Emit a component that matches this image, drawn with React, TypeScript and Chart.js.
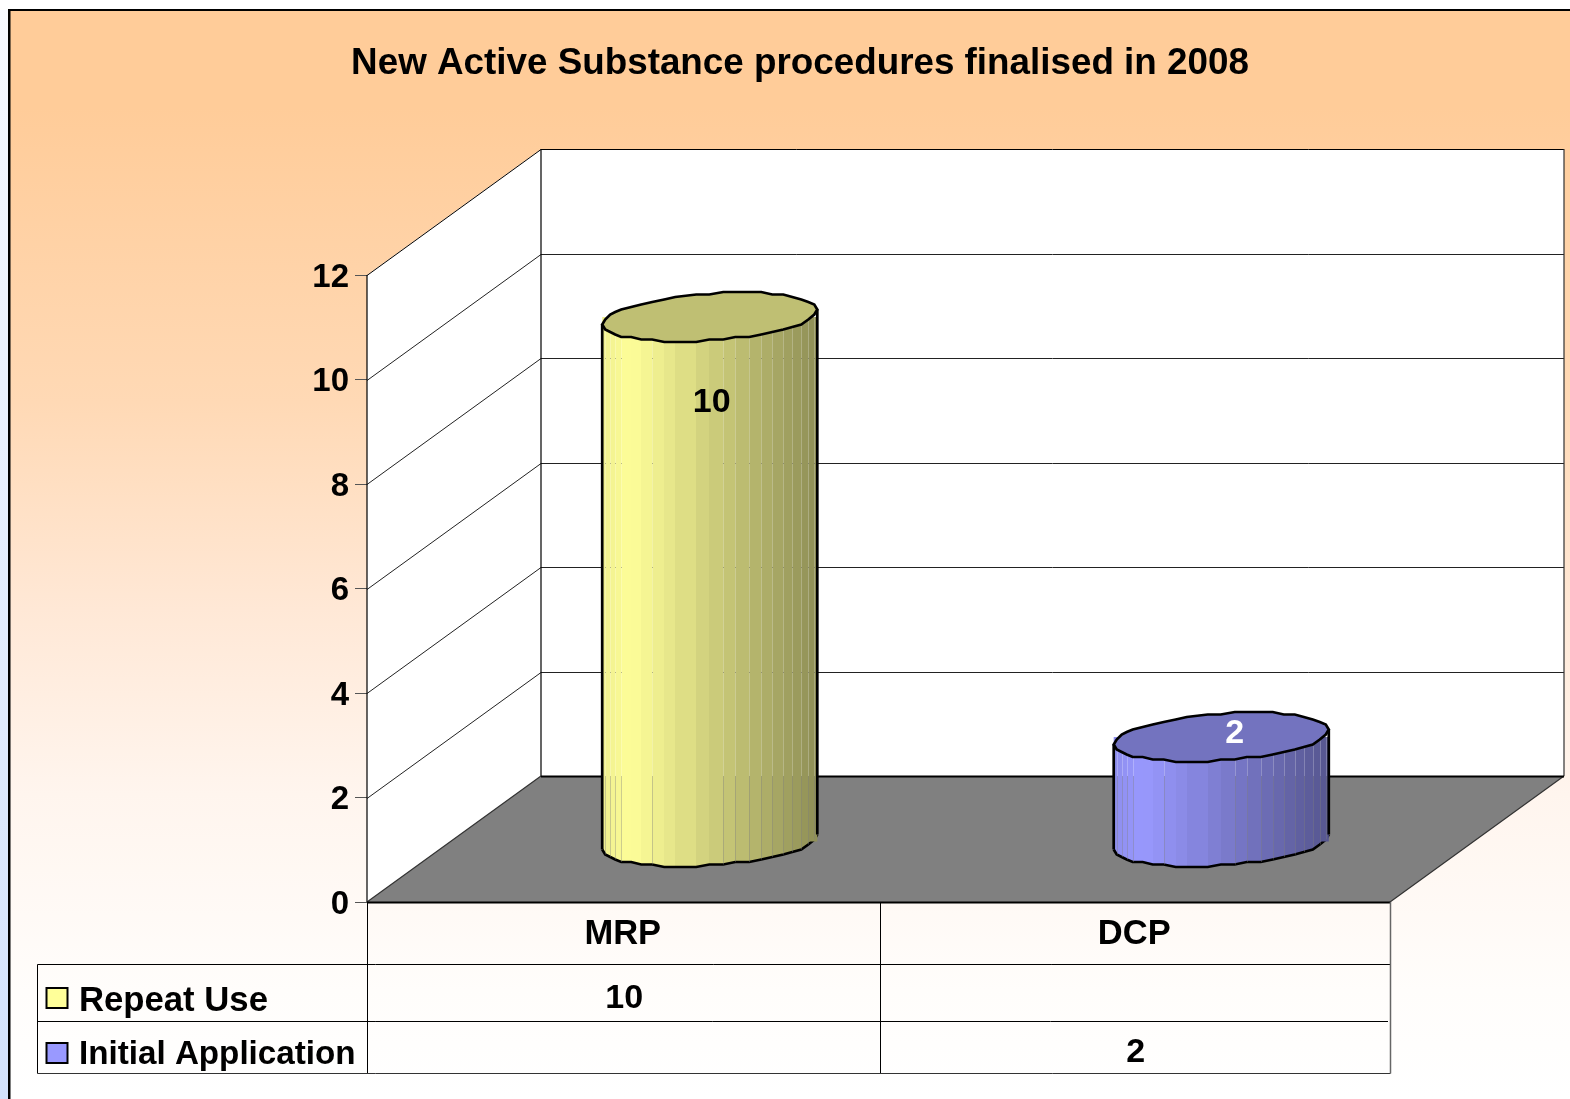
import React, { useEffect, useRef } from "react";
import { Chart, registerables } from "chart.js";

Chart.register(...registerables);

const titleText = "New Active Substance procedures finalised in 2008";
const categories = ["MRP", "DCP"];
const seriesNames = ["Repeat Use", "Initial Application"];
const repeatUse = [10, null];
const initialApplication = [null, 2];
const seriesValues = [repeatUse, initialApplication];
const seriesColors = ["#FFFF99", "#9999FF"];
const labelColors = ["#000000", "#FFFFFF"];

const FONT = '"Liberation Sans", Arial, sans-serif';
const W = 1570;
const H = 1099;
const WALL_DX = 174;
const WALL_DY = -126;
const BAR_DX = 87;
const BAR_DY = -60;
const RISE = 525 / 522.5;
const OUTLINE = 2.7;
const TICK_TEXT_SHIFT = 2.5;
const bandEdges = [0, 3, 8, 13, 19, 29, 39, 50, 62, 73, 94, 107, 121, 133, 147, 159, 170, 181, 190, 199, 206, 212, 215];
const seamEdges = [3, 8, 13, 19, 50, 121, 133, 147, 159, 170, 181, 190, 199, 206, 212];
const labelOffsets = [[2, 86], [13.5, -3]];

function hexRgb(hex: string) {
  return [1, 3, 5].map((i) => parseInt(hex.slice(i, i + 2), 16));
}
function shadeColor(hex: string, f: number) {
  const [r, g, b] = hexRgb(hex).map((v) => Math.round(v * f));
  return `rgb(${r},${g},${b})`;
}
function shadeAt(u: number) {
  return u < 0.13 ? 0.93 + (0.07 * u) / 0.13 : 1 - (0.44 * (u - 0.13)) / 0.87;
}
function bandGradient(ctx: CanvasRenderingContext2D, left: number, width: number, hex: string) {
  const g = ctx.createLinearGradient(left, 0, left + width, 0);
  for (let i = 0; i < bandEdges.length - 1; i++) {
    const a = bandEdges[i] / 215;
    const b = bandEdges[i + 1] / 215;
    const c = shadeColor(hex, shadeAt((a + b) / 2));
    g.addColorStop(a, c);
    g.addColorStop(b, c);
  }
  return g;
}
function ringY(c: number, lower: boolean) {
  const s = Math.sqrt(Math.max(0, 1 - c * c));
  const y = -7 * c + (lower ? 23.5 : -23.5) * s;
  return Math.round(y / 2.5) * 2.5;
}
function lowerArc(ctx: CanvasRenderingContext2D, cx: number, cy: number, a: number) {
  const k = a / 107.5;
  bandEdges.forEach((e, i) => {
    const x = cx - a + e * k;
    const y = cy + ringY((x - cx) / a, true);
    if (i === 0) ctx.moveTo(x, y);
    else ctx.lineTo(x, y);
  });
}
function ringPath(ctx: CanvasRenderingContext2D, cx: number, cy: number, a: number) {
  const k = a / 107.5;
  ctx.beginPath();
  lowerArc(ctx, cx, cy, a);
  [...bandEdges].reverse().forEach((e) => {
    const x = cx - a + e * k;
    ctx.lineTo(x, cy + ringY((x - cx) / a, false));
  });
  ctx.closePath();
}

const scenePlugin = {
  id: "scene",
  beforeDraw(chart: any) {
    const { ctx } = chart;
    chart.scales.y.getLabelItems().forEach((item: any) => {
      if (item.shifted) return;
      item.shifted = true;
      item.options = { ...item.options, translation: [item.options.translation[0], item.options.translation[1] + TICK_TEXT_SHIFT] };
    });
    ctx.save();
    ctx.fillStyle = "#FFFFFF";
    ctx.fillRect(0, 0, W, H);
    const strip = ctx.createLinearGradient(0, 10, 0, H);
    strip.addColorStop(0, "#F6F9FF");
    strip.addColorStop(1, "#D3E2FC");
    ctx.fillStyle = strip;
    ctx.fillRect(0, 10, 9, H - 10);
    const bg = ctx.createLinearGradient(0, 10, 0, H);
    bg.addColorStop(0, "#FFCC99");
    bg.addColorStop(0.09, "#FFCC99");
    bg.addColorStop(0.36, "#FFD9B5");
    bg.addColorStop(0.55, "#FFE8D6");
    bg.addColorStop(0.72, "#FFF5EE");
    bg.addColorStop(0.9, "#FFFDFB");
    bg.addColorStop(1, "#FFFFFF");
    ctx.fillStyle = bg;
    ctx.fillRect(9, 10, W - 9, H - 10);
    ctx.fillStyle = "#000000";
    ctx.fillRect(8, 9, W - 8, 2);
    ctx.fillRect(8, 9, 2.5, H - 9);
    ctx.restore();
  },
  beforeDatasetsDraw(chart: any) {
    const { ctx, scales } = chart;
    const x = scales.x;
    const y = scales.y;
    const l = x.left;
    const r = x.right;
    const top = y.getPixelForValue(12);
    const bot = y.getPixelForValue(0);
    ctx.save();
    // walls
    ctx.fillStyle = "#FFFFFF";
    ctx.beginPath();
    ctx.moveTo(l, bot);
    ctx.lineTo(l, top);
    ctx.lineTo(l + WALL_DX, top + WALL_DY);
    ctx.lineTo(r + WALL_DX, top + WALL_DY);
    ctx.lineTo(r + WALL_DX, bot + WALL_DY);
    ctx.lineTo(l + WALL_DX, bot + WALL_DY);
    ctx.closePath();
    ctx.fill();
    // floor
    ctx.fillStyle = "#808080";
    ctx.beginPath();
    ctx.moveTo(l, bot);
    ctx.lineTo(l + WALL_DX, bot + WALL_DY);
    ctx.lineTo(r + WALL_DX, bot + WALL_DY);
    ctx.lineTo(r, bot);
    ctx.closePath();
    ctx.fill();
    // grid
    ctx.lineWidth = 1;
    y.ticks.forEach((t: any) => {
      if (t.value === 0) return;
      const py = Math.round(y.getPixelForValue(t.value)) + 0.5;
      ctx.strokeStyle = t.value === 12 ? "#000000" : "#222222";
      ctx.beginPath();
      ctx.moveTo(l, py);
      ctx.lineTo(l + WALL_DX, py + WALL_DY);
      ctx.lineTo(r + WALL_DX, py + WALL_DY);
      ctx.stroke();
    });
    ctx.strokeStyle = "#000000";
    ctx.lineWidth = 1.2;
    ctx.beginPath();
    ctx.moveTo(l, top);
    ctx.lineTo(l, bot);
    ctx.moveTo(l + WALL_DX, top + WALL_DY);
    ctx.lineTo(l + WALL_DX, bot + WALL_DY);
    ctx.stroke();
    ctx.strokeStyle = "#333333";
    ctx.beginPath();
    ctx.moveTo(r + WALL_DX, top + WALL_DY);
    ctx.lineTo(r + WALL_DX, bot + WALL_DY);
    ctx.moveTo(l, bot);
    ctx.lineTo(l + WALL_DX, bot + WALL_DY);
    ctx.moveTo(r, bot);
    ctx.lineTo(r + WALL_DX, bot + WALL_DY);
    ctx.stroke();
    ctx.strokeStyle = "#000000";
    ctx.lineWidth = 2;
    ctx.beginPath();
    ctx.moveTo(l + WALL_DX, bot + WALL_DY + 0.5);
    ctx.lineTo(r + WALL_DX, bot + WALL_DY + 0.5);
    ctx.moveTo(l, bot + 0.5);
    ctx.lineTo(r, bot + 0.5);
    ctx.stroke();
    // data table
    const row1 = 964.5;
    const row2 = 1021.5;
    const row3 = 1073.5;
    const tableLeft = 37.5;
    const mid = Math.round((l + r) / 2) + 1;
    ctx.lineWidth = 1;
    ctx.strokeStyle = "#000000";
    ctx.beginPath();
    ctx.moveTo(tableLeft, row1);
    ctx.lineTo(r, row1);
    ctx.moveTo(tableLeft, row2);
    ctx.lineTo(r - 2, row2);
    ctx.moveTo(tableLeft, row1);
    ctx.lineTo(tableLeft, row3);
    ctx.moveTo(l + 0.5, bot);
    ctx.lineTo(l + 0.5, row3);
    ctx.moveTo(mid + 0.5, bot);
    ctx.lineTo(mid + 0.5, row3);
    ctx.stroke();
    ctx.strokeStyle = "#333333";
    ctx.beginPath();
    ctx.moveTo(tableLeft, row3);
    ctx.lineTo(r + 0.5, row3);
    ctx.stroke();
    ctx.strokeStyle = "#666666";
    ctx.lineWidth = 1.5;
    ctx.beginPath();
    ctx.moveTo(r + 0.5, bot);
    ctx.lineTo(r + 0.5, row3);
    ctx.stroke();
    const rowText = [999, 1053];
    const legendText = [1001, 1055];
    const legendFont = [34.7, 33.2];
    const keyTop = [988, 1043];
    seriesNames.forEach((name, s) => {
      ctx.fillStyle = seriesColors[s];
      ctx.strokeStyle = "#000000";
      ctx.lineWidth = 2;
      ctx.fillRect(46.5, keyTop[s], 21, 20);
      ctx.strokeRect(46.5, keyTop[s], 21, 20);
      ctx.fillStyle = "#000000";
      ctx.font = `bold ${legendFont[s]}px ${FONT}`;
      ctx.textAlign = "left";
      ctx.textBaseline = "middle";
      ctx.fillText(name, 79, legendText[s]);
      ctx.font = `bold 34px ${FONT}`;
      ctx.textAlign = "center";
      seriesValues[s].forEach((v, i) => {
        if (v !== null) ctx.fillText(String(v), x.getPixelForValue(i) + 1.5, rowText[s]);
      });
    });
    ctx.restore();
  },
  beforeDatasetDraw(chart: any, args: any) {
    const { ctx, scales } = chart;
    const s = args.index;
    const base = scales.y.getPixelForValue(0);
    chart.getDatasetMeta(s).data.forEach((bar: any, i: number) => {
      if (seriesValues[s][i] === null) return;
      const cx = bar.x + BAR_DX;
      const a = bar.width / 2;
      const cy = base + BAR_DY;
      ctx.save();
      ctx.beginPath();
      lowerArc(ctx, cx, cy, a);
      ctx.lineTo(cx + a, cy - 12);
      ctx.lineTo(cx - a, cy - 12);
      ctx.closePath();
      ctx.fillStyle = bandGradient(ctx, cx - a, bar.width, seriesColors[s]);
      ctx.fill();
      ctx.beginPath();
      lowerArc(ctx, cx, cy, a);
      ctx.lineWidth = OUTLINE;
      ctx.strokeStyle = "#000000";
      ctx.stroke();
      ctx.restore();
    });
    ctx.save();
    // the library's bars are drawn in the cylinder plane, behind the front of the axes
    ctx.transform(1, 0, 0, RISE, BAR_DX, base + BAR_DY - base * RISE);
  },
  afterDatasetDraw(chart: any, args: any) {
    const { ctx, scales } = chart;
    ctx.restore();
    const s = args.index;
    const y = scales.y;
    const base = y.getPixelForValue(0);
    const floorBack = base + WALL_DY;
    chart.getDatasetMeta(s).data.forEach((bar: any, i: number) => {
      if (seriesValues[s][i] === null) return;
      const cx = bar.x + BAR_DX;
      const a = bar.width / 2;
      const k = a / 107.5;
      const cyBase = base + BAR_DY;
      const cyTop = cyBase - (base - bar.y) * RISE;
      ctx.save();
      ctx.lineWidth = 1;
      seamEdges.forEach((e) => {
        const sx = Math.round(cx - a + e * k) + 0.5;
        const yw = ringY((sx - cx) / a, true);
        const y0 = cyTop + yw;
        const y1 = cyBase + yw;
        if (y0 < floorBack) {
          ctx.strokeStyle = "rgba(255,255,255,0.24)";
          ctx.beginPath();
          ctx.moveTo(sx, y0);
          ctx.lineTo(sx, Math.min(y1, floorBack));
          ctx.stroke();
        }
        ctx.strokeStyle = "rgba(128,128,128,0.38)";
        ctx.beginPath();
        ctx.moveTo(sx, Math.max(y0, floorBack));
        ctx.lineTo(sx, y1);
        ctx.stroke();
        y.ticks.forEach((t: any) => {
          const gy = Math.round(y.getPixelForValue(t.value) + WALL_DY);
          if (gy > y0 && gy < Math.min(y1, floorBack)) {
            ctx.fillStyle = "rgba(60,60,60,0.35)";
            ctx.fillRect(sx - 0.5, gy, 1, 1);
          }
        });
      });
      ctx.strokeStyle = "#000000";
      ctx.lineWidth = OUTLINE;
      ctx.beginPath();
      ctx.moveTo(cx - a, cyTop + ringY(-1, true));
      ctx.lineTo(cx - a, cyBase + ringY(-1, true));
      ctx.moveTo(cx + a, cyTop + ringY(1, true));
      ctx.lineTo(cx + a, cyBase + ringY(1, true));
      ctx.stroke();
      ringPath(ctx, cx, cyTop, a);
      ctx.fillStyle = shadeColor(seriesColors[s], 0.75);
      ctx.fill();
      ctx.stroke();
      ctx.restore();
    });
  },
  afterDatasetsDraw(chart: any) {
    const { ctx } = chart;
    ctx.save();
    ctx.font = `bold 34px ${FONT}`;
    ctx.textAlign = "center";
    ctx.textBaseline = "middle";
    seriesValues.forEach((vals, s) => {
      chart.getDatasetMeta(s).data.forEach((bar: any, i: number) => {
        if (vals[i] === null) return;
        const base = chart.scales.y.getPixelForValue(0);
        const top = base + BAR_DY - (base - bar.y) * RISE;
        ctx.fillStyle = labelColors[s];
        ctx.fillText(String(vals[i]), bar.x + BAR_DX + labelOffsets[s][0], top + labelOffsets[s][1]);
      });
    });
    ctx.restore();
  },
};

export default function App() {
  const ref = useRef<HTMLCanvasElement | null>(null);
  useEffect(() => {
    if (!ref.current) return;
    const chart = new Chart(ref.current, {
      type: "bar",
      data: {
        labels: categories,
        datasets: seriesNames.map((label, s) => ({
          label,
          data: seriesValues[s],
          clip: false,
          borderWidth: 0,
          categoryPercentage: 1,
          barPercentage: 0.4205,
          backgroundColor: (c: any) => {
            const x = c.chart.scales?.x;
            if (!x || c.dataIndex === undefined || !x.width) return seriesColors[s];
            const width = (x.width / categories.length) * 0.4205;
            return bandGradient(c.chart.ctx, x.getPixelForValue(c.dataIndex) - width / 2, width, seriesColors[s]);
          },
        })),
      } as any,
      options: {
        responsive: false,
        animation: false,
        events: [],
        layout: { padding: { left: 210, right: 180, top: 0, bottom: 0 } },
        plugins: {
          legend: { display: false },
          tooltip: { enabled: false },
          title: {
            display: true,
            text: titleText,
            color: "#000000",
            font: { family: FONT, size: 36.8, weight: "bold", lineHeight: 1.2 },
            padding: { top: 42, bottom: 188.84 },
          },
        },
        scales: {
          x: {
            stacked: true,
            afterFit: (s: any) => {
              s.height = H - 902;
            },
            grid: { display: false, drawTicks: false },
            border: { display: false },
            ticks: { color: "#000000", padding: 12, font: { family: FONT, size: 34.5, weight: "bold" } },
          },
          y: {
            stacked: true,
            min: 0,
            max: 12,
            afterFit: (s: any) => {
              s.width = 157;
            },
            grid: { drawOnChartArea: false, drawTicks: true, tickLength: 12, color: "#555555" },
            border: { display: false },
            ticks: { stepSize: 2, color: "#000000", padding: 6, font: { family: FONT, size: 33, weight: "bold" } },
          },
        },
      } as any,
      plugins: [scenePlugin as any],
    });
    return () => chart.destroy();
  }, []);
  return (
    <div style={{ position: "absolute", left: 0, top: 0, width: W, height: H, overflow: "hidden" }}>
      <canvas ref={ref} width={W} height={H} style={{ display: "block" }} />
    </div>
  );
}
